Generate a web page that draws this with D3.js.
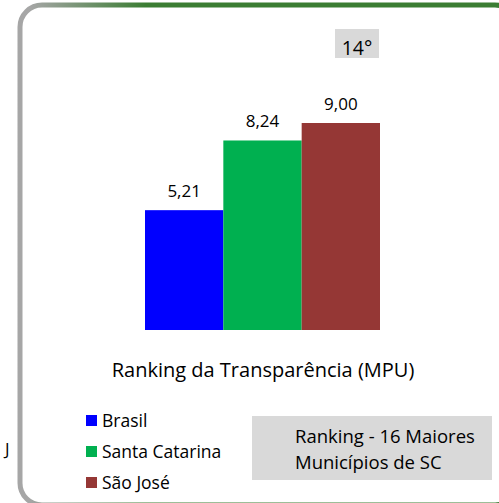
<!DOCTYPE html>
<html><head><meta charset="utf-8">
<script src="https://cdn.jsdelivr.net/npm/d3@7"></script>
<style>html,body{margin:0;padding:0;background:#fff;}svg{display:block;}</style>
</head><body>
<svg id="c" width="499" height="503"></svg>
<script>
const categories = ["Brasil", "Santa Catarina", "São José"];
const values = [5.21, 8.24, 9.00];
const valueLabels = ["5,21", "8,24", "9,00"];
const colors = ["#0000ff", "#00b050", "#953735"];
const title = "Ranking da Transparência (MPU)";
const rankLabel = "14°";
const noteLines = ["Ranking - 16 Maiores", "Municípios de SC"];

const FONT = "'Open Sans', 'Noto Sans', sans-serif";
const svg = d3.select("#c");

const defs = svg.append("defs");
const g = defs.append("linearGradient").attr("id","fr").attr("gradientUnits","userSpaceOnUse")
  .attr("x1",20).attr("y1",0).attr("x2",200).attr("y2",0);
g.append("stop").attr("offset","0.05").attr("stop-color","#a6a6a6");
g.append("stop").attr("offset","0.7").attr("stop-color","#3b7d33");
g.append("stop").attr("offset","1").attr("stop-color","#3b7d33");

svg.append("rect").attr("x",20).attr("y",5).attr("width",497).attr("height",500)
  .attr("rx",22).attr("ry",22).attr("fill","none").attr("stroke","url(#fr)").attr("stroke-width",5);

const x = d3.scaleBand().domain(categories).range([145, 380]).padding(0);
const y = d3.scaleLinear().domain([0, 10]).range([330, 100]);

svg.append("g").selectAll("rect").data(categories).join("rect")
  .attr("x", d => x(d)).attr("width", x.bandwidth())
  .attr("y", (d,i) => y(values[i])).attr("height", (d,i) => y(0) - y(values[i]))
  .attr("fill", (d,i) => colors[i]);

svg.append("g").selectAll("text").data(categories).join("text")
  .attr("x", d => x(d) + x.bandwidth()/2)
  .attr("y", (d,i) => y(values[i]) - 13)
  .attr("text-anchor","middle").attr("font-family",FONT).attr("font-size",17).attr("fill","#000")
  .text((d,i) => valueLabels[i]);

svg.append("text").attr("x",263).attr("y",377).attr("text-anchor","middle")
  .attr("font-family",FONT).attr("font-size",20).attr("fill","#000").text(title);

svg.append("rect").attr("x",335).attr("y",29).attr("width",44).attr("height",29).attr("fill","#d9d9d9");
svg.append("text").attr("x",357).attr("y",55).attr("text-anchor","middle")
  .attr("font-family",FONT).attr("font-size",19.5).attr("fill","#000").text(rankLabel);

const lg = svg.append("g").selectAll("g").data(categories).join("g")
  .attr("transform",(d,i)=>`translate(86,${415 + i*31})`);
lg.append("rect").attr("width",11).attr("height",11).attr("fill",(d,i)=>colors[i]);
lg.append("text").attr("x",16).attr("y",11.5).attr("font-family",FONT).attr("font-size",17.5).attr("fill","#000").text(d=>d);

svg.append("rect").attr("x",252).attr("y",416).attr("width",240).attr("height",64).attr("fill","#d9d9d9");
svg.append("g").selectAll("text").data(noteLines).join("text")
  .attr("x",295).attr("y",(d,i)=>443 + i*26).attr("font-family",FONT).attr("font-size",18.5).attr("fill","#000").text(d=>d);

svg.append("text").attr("x",5).attr("y",455).attr("font-family",FONT).attr("font-size",17).attr("fill","#000").text("J");
</script>
</body></html>
